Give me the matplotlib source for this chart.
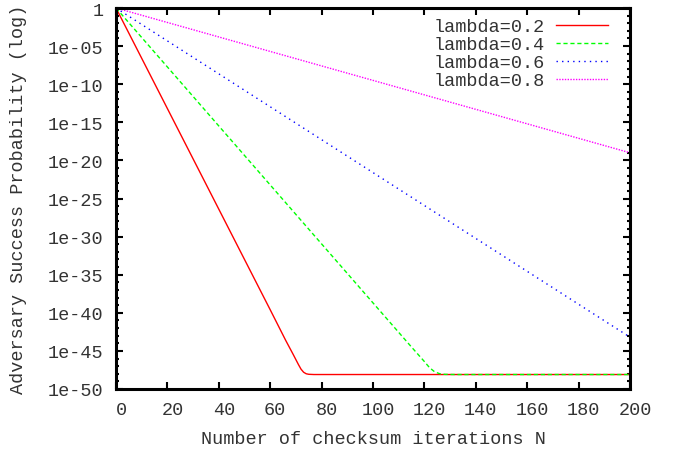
import matplotlib
matplotlib.use("Agg")
import matplotlib.pyplot as plt
import matplotlib.transforms as mtransforms
from matplotlib.ticker import FixedLocator, FuncFormatter
import numpy as np

# Data (log10 of probability)
n_02 = [0, 10, 20, 30, 40, 50, 60, 66, 69, 71, 72, 73, 74, 75, 77, 80, 200]
log_02 = [0, -6.6, -13.2, -19.8, -26.4, -33.0, -39.6, -43.6, -45.5, -46.8, -47.4,
          -47.8, -48.0, -48.07, -48.1, -48.1, -48.1]
n_04 = [0, 20, 40, 60, 80, 100, 115, 120, 122, 124, 126, 128, 132, 200]
log_04 = [0, -7.74, -15.48, -23.22, -30.96, -38.7, -44.5, -46.4, -47.2, -47.75,
          -48.0, -48.08, -48.1, -48.1]
n_06 = [0, 50, 100, 150, 200]
log_06 = [0, -10.8, -21.6, -32.4, -43.2]
n_08 = [0, 50, 100, 150, 200]
log_08 = [0, -4.75, -9.5, -14.25, -19.0]

labels = ["lambda=0.2", "lambda=0.4", "lambda=0.6", "lambda=0.8"]
x_ticks = [0, 20, 40, 60, 80, 100, 120, 140, 160, 180, 200]
y_major_exp = [0, -5, -10, -15, -20, -25, -30, -35, -40, -45, -50]

plt.rcParams['font.family'] = ['Liberation Mono', 'DejaVu Sans Mono']
plt.rcParams['font.size'] = 13.3

fig = plt.figure(figsize=(6.74, 4.52), dpi=100)
ax = fig.add_axes([116/674, 1 - 390/452, (630 - 116)/674, (390 - 9)/452])

ax.plot(n_02, 10.0 ** np.array(log_02), color='#ff0000', lw=1.0, ls='-', label=labels[0])
ax.plot(n_04, 10.0 ** np.array(log_04), color='#00ff00', lw=1.0, ls=(0, (3, 2)), label=labels[1])
ax.plot(n_06, 10.0 ** np.array(log_06), color='#0000ff', lw=1.0, ls=(0, (1, 3)), label=labels[2])
ax.plot(n_08, 10.0 ** np.array(log_08), color='#ff00ff', lw=1.0, ls=(0, (1, 1)), label=labels[3])

ax.set_yscale('log')
ax.set_xlim(0, 200)
ax.set_ylim(1e-50, 1)
ax.xaxis.set_major_locator(FixedLocator(x_ticks))
ax.yaxis.set_major_locator(FixedLocator([10.0 ** e for e in y_major_exp]))
ax.yaxis.set_minor_locator(FixedLocator([10.0 ** e for e in range(-50, 1)]))
ax.yaxis.set_major_formatter(FuncFormatter(lambda v, p: '%g' % v))
ax.yaxis.set_minor_formatter(FuncFormatter(lambda v, p: ''))

ax.tick_params(which='both', direction='in', top=True, right=True, colors='black',
               labelcolor='#333333')
ax.tick_params(which='major', length=5, width=1.5)
ax.tick_params(which='minor', length=2.5, width=1.5)
ax.tick_params(axis='y', pad=9)
ax.tick_params(axis='x', pad=9)
for s in ax.spines.values():
    s.set_linewidth(2.2)

offset = mtransforms.ScaledTranslation(5/100, 0, fig.dpi_scale_trans)
for lbl in ax.get_xticklabels():
    lbl.set_transform(lbl.get_transform() + offset)

ax.set_xlabel("Number of checksum iterations N", color='#333333', labelpad=8)
ax.set_ylabel("Adversary Success Probability (log)", color='#333333', labelpad=15)

leg = ax.legend(loc='upper right', bbox_to_anchor=(0.986, 1.012), frameon=False,
                markerfirst=False, handlelength=2.8, handletextpad=0.6,
                labelspacing=0.05, borderpad=0.3)
for t in leg.get_texts():
    t.set_color('#333333')

fig.savefig("out.png", dpi=100)
